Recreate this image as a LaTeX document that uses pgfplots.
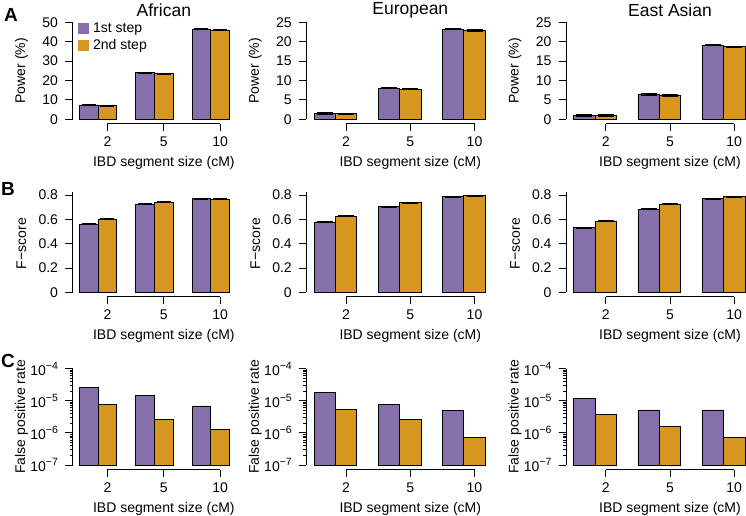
\documentclass[border=0pt]{standalone}
\usepackage{fontspec}
\setmainfont{Liberation Sans}
\usepackage{pgfplots}
\pgfplotsset{compat=1.18}

\definecolor{purp}{RGB}{134,112,171}
\definecolor{oran}{RGB}{214,150,32}

\newcommand{\tenp}[1]{10\raisebox{0.42em}{\fontsize{10.5}{12}\selectfont −#1}}

\pgfplotsset{
  panel/.style={
    scale only axis, clip=false, enlargelimits=false,
    axis x line*=bottom, axis y line*=left,
    axis line style={draw=none},
    axis x line shift=4.5pt,
    xmin=0.64, xmax=9.36,
    xtick={2.5,5.5,8.5}, xticklabels={2,5,10},
    tick align=outside, major tick length=7.5pt,
    every tick/.style={black, line width=0.9pt},
    font=\fontsize{14}{16}\selectfont,
    /pgf/number format/assume math mode=true,
    yticklabel style={xshift=-3.5pt},
    xticklabel style={yshift=-2pt},
    xlabel={IBD segment size (cM)},
    xlabel style={at={([yshift=-44pt]rel axis cs:0.5573,0)}, anchor=center},
    ylabel style={at={([xshift=-51pt]rel axis cs:0,0.5)}, anchor=center},
    every axis title/.style={at={([yshift=12.3pt]rel axis cs:0.5573,1)}, anchor=center,
      font=\fontsize{17.5}{20}\selectfont},
  },
  c1/.style={width=163.9pt},
  c2/.style={width=186.6pt},
  rowA/.style={height=97pt, ymin=0, ylabel={Power (\%)}},
  rowB/.style={height=97.3pt, ymin=0, ymax=0.8, ytick={0,0.2,0.4,0.6,0.8},
    yticklabels={0,0.2,0.4,0.6,0.8}, ylabel={F−score}},
  rowC/.style={height=96.3pt, ymin=1e-7, ymax=1e-4,
    ytick={1e-7,1e-6,1e-5,1e-4},
    yticklabels={\tenp{7},\tenp{6},\tenp{5},\tenp{4}},
    ylabel={False positive rate}},
  bars/.style={ybar, bar width=1, bar shift=0pt, fill=#1, draw=black, line width=0.8pt, forget plot},
  errs/.style={error bars/.cd, y dir=both, y explicit,
    error bar style={black, line width=1.2pt},
    error mark options={rotate=90, black, line width=1.2pt, mark size=#1}},
}

\newcommand{\axlines}[1]{%
  \draw[line width=0.9pt] (rel axis cs:0,0) -- (rel axis cs:0,#1);
  \draw[line width=0.9pt] ([yshift=-4.5pt]rel axis cs:0.2133,0) -- ([yshift=-4.5pt]rel axis cs:0.9014,0);}

\begin{document}
\begin{tikzpicture}
\useasboundingbox (0,0) rectangle (746pt,515pt);

% ---- row A: power
\begin{axis}[panel, c1, rowA, at={(72.5pt,395.7pt)}, anchor=south west,
  ymax=50, ytick={0,10,20,30,40,50}, title={African},
  legend style={draw=none, fill=none, at={(rel axis cs:0.0,1.0)}, anchor=north west,
    xshift=2pt, yshift=4pt, legend cell align=left, row sep=2pt,
    font=\fontsize{14}{16}\selectfont}]
\addlegendimage{legend image code/.code={\fill[purp] (0pt,-5pt) rectangle (10pt,5pt); \path (13pt,0pt);}}
\addlegendentry{1st step}
\addlegendimage{legend image code/.code={\fill[oran] (0pt,-5pt) rectangle (10pt,5pt); \path (13pt,0pt);}}
\addlegendentry{2nd step}
\addplot[bars=purp, errs=7pt] coordinates {(1.5,7.4) +- (0,0.3) (4.5,24.0) +- (0,0.3) (7.5,46.5) +- (0,0.3)};
\addplot[bars=oran, errs=7pt] coordinates {(2.5,7.0) +- (0,0.3) (5.5,23.5) +- (0,0.3) (8.5,46.0) +- (0,0.3)};
\axlines{1}
\end{axis}

\begin{axis}[panel, c2, rowA, at={(306.3pt,395.7pt)}, anchor=south west,
  ymax=25, ytick={0,5,10,15,20,25}, title={European}]
\addplot[bars=purp, errs=8pt] coordinates {(1.5,1.45) +- (0,0.15) (4.5,8.05) +- (0,0.15) (7.5,23.2) +- (0,0.15)};
\addplot[bars=oran, errs=8pt] coordinates {(2.5,1.4) +- (0,0.15) (5.5,7.8) +- (0,0.15) (8.5,22.9) +- (0,0.15)};
\axlines{1}
\end{axis}

\begin{axis}[panel, c2, rowA, at={(566pt,395.7pt)}, anchor=south west,
  ymax=25, ytick={0,5,10,15,20,25}, title={East Asian}]
\addplot[bars=purp, errs=8pt] coordinates {(1.5,1.0) +- (0,0.15) (4.5,6.35) +- (0,0.15) (7.5,19.1) +- (0,0.15)};
\addplot[bars=oran, errs=8pt] coordinates {(2.5,0.97) +- (0,0.15) (5.5,6.1) +- (0,0.15) (8.5,18.7) +- (0,0.15)};
\axlines{1}
\end{axis}

% ---- row B: F-score
\begin{axis}[panel, c1, rowB, at={(72.5pt,222.7pt)}, anchor=south west]
\addplot[bars=purp, errs=7pt] coordinates {(1.5,0.56) +- (0,0.004) (4.5,0.725) +- (0,0.003) (7.5,0.77) +- (0,0.003)};
\addplot[bars=oran, errs=7pt] coordinates {(2.5,0.60) +- (0,0.004) (5.5,0.74) +- (0,0.003) (8.5,0.767) +- (0,0.003)};
\axlines{1.03125}
\end{axis}

\begin{axis}[panel, c2, rowB, at={(306.3pt,222.7pt)}, anchor=south west]
\addplot[bars=purp, errs=8pt] coordinates {(1.5,0.577) +- (0,0.004) (4.5,0.705) +- (0,0.003) (7.5,0.785) +- (0,0.003)};
\addplot[bars=oran, errs=8pt] coordinates {(2.5,0.625) +- (0,0.004) (5.5,0.737) +- (0,0.003) (8.5,0.795) +- (0,0.003)};
\axlines{1.03125}
\end{axis}

\begin{axis}[panel, c2, rowB, at={(566pt,222.7pt)}, anchor=south west]
\addplot[bars=purp, errs=8pt] coordinates {(1.5,0.53) +- (0,0.004) (4.5,0.682) +- (0,0.003) (7.5,0.77) +- (0,0.003)};
\addplot[bars=oran, errs=8pt] coordinates {(2.5,0.586) +- (0,0.004) (5.5,0.723) +- (0,0.003) (8.5,0.787) +- (0,0.003)};
\axlines{1.03125}
\end{axis}

% ---- row C: false positive rate
\begin{axis}[ymode=log, log origin y=infty, panel, c1, rowC, at={(72.5pt,50pt)}, anchor=south west]
\addplot[bars=purp] coordinates {(1.5,2.57e-5) (4.5,1.51e-5) (7.5,6.9e-6)};
\addplot[bars=oran] coordinates {(2.5,7.8e-6) (5.5,2.65e-6) (8.5,1.29e-6)};
\axlines{1}
\end{axis}

\begin{axis}[ymode=log, log origin y=infty, panel, c2, rowC, at={(306.3pt,50pt)}, anchor=south west]
\addplot[bars=purp] coordinates {(1.5,1.79e-5) (4.5,7.9e-6) (7.5,4.9e-6)};
\addplot[bars=oran] coordinates {(2.5,5.4e-6) (5.5,2.65e-6) (8.5,7.4e-7)};
\axlines{1}
\end{axis}

\begin{axis}[ymode=log, log origin y=infty, panel, c2, rowC, at={(566pt,50pt)}, anchor=south west]
\addplot[bars=purp] coordinates {(1.5,1.19e-5) (4.5,5.2e-6) (7.5,5.2e-6)};
\addplot[bars=oran] coordinates {(2.5,3.8e-6) (5.5,1.56e-6) (8.5,7.3e-7)};
\axlines{1}
\end{axis}

\node[font=\bfseries\fontsize{19}{22}\selectfont] at (11pt,500.5pt) {A};
\node[font=\bfseries\fontsize{19}{22}\selectfont] at (8pt,326.5pt) {B};
\node[font=\bfseries\fontsize{19}{22}\selectfont] at (8pt,154pt) {C};
\end{tikzpicture}
\end{document}
